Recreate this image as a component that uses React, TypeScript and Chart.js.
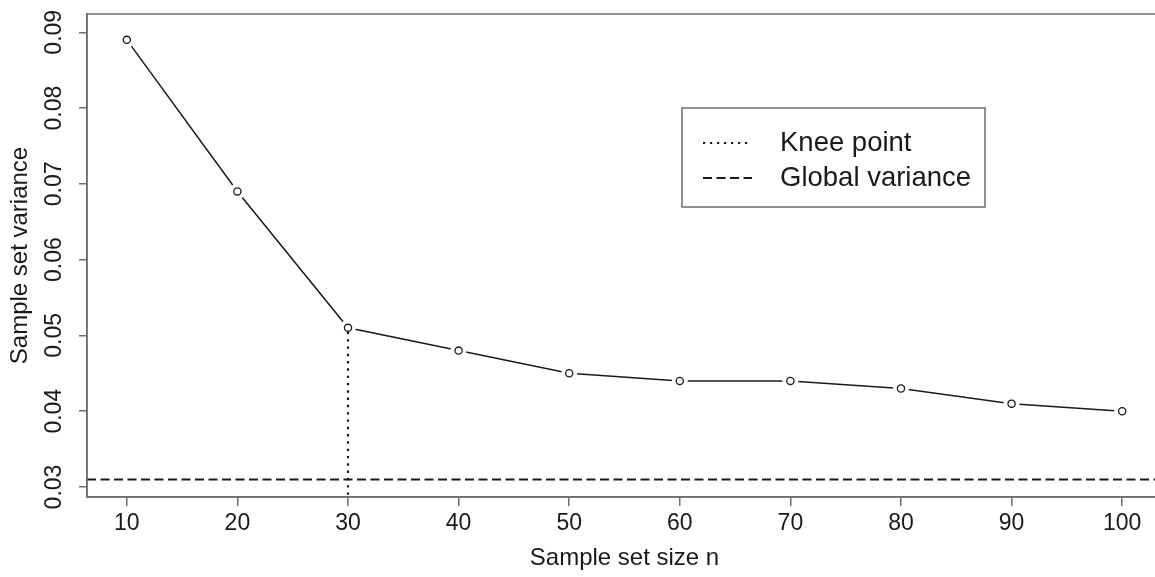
import { useEffect, useRef } from "react";
import { Chart, registerables } from "chart.js";

Chart.register(...registerables);

// Sample variance for increasing sample set sizes
const sampleSizes = [10, 20, 30, 40, 50, 60, 70, 80, 90, 100];
const sampleVariance = [0.089, 0.069, 0.051, 0.048, 0.045, 0.044, 0.044, 0.043, 0.041, 0.04];

const xTickValues = [10, 20, 30, 40, 50, 60, 70, 80, 90, 100];
const yTickValues = [0.03, 0.04, 0.05, 0.06, 0.07, 0.08, 0.09];
const yTickLabels = ["0.03", "0.04", "0.05", "0.06", "0.07", "0.08", "0.09"];

const kneeSize = 30;
const kneeVariance = 0.051;
const globalVariance = 0.031;

const legendLabels = ["Knee point", "Global variance"];
const xTitle = "Sample set size n";
const yTitle = "Sample set variance";

const FONT = '"Liberation Sans", Arial, Helvetica, sans-serif';
const AXIS_GRAY = "#6e6e6e";
const INK = "#1a1a1a";

const decorPlugin = {
  id: "plotDecor",
  afterDatasetsDraw(chart: any) {
    const { ctx, chartArea, scales } = chart;
    const xs = scales.x;
    const ys = scales.y;
    ctx.save();

    // global variance reference line
    const gy = ys.getPixelForValue(globalVariance);
    ctx.strokeStyle = INK;
    ctx.lineWidth = 2;
    ctx.setLineDash([9, 4.5]);
    ctx.beginPath();
    ctx.moveTo(chartArea.left, gy);
    ctx.lineTo(chartArea.right, gy);
    ctx.stroke();

    // knee point drop line
    const kx = xs.getPixelForValue(kneeSize);
    const ky = ys.getPixelForValue(kneeVariance);
    ctx.lineWidth = 2.2;
    ctx.setLineDash([2.4, 4.9]);
    ctx.beginPath();
    ctx.moveTo(kx, ky + 4);
    ctx.lineTo(kx, chartArea.bottom);
    ctx.stroke();
    ctx.restore();
  },
  afterDraw(chart: any) {
    const { ctx, chartArea, scales } = chart;
    const ys = scales.y;
    ctx.save();

    // box around the plotting region
    ctx.strokeStyle = AXIS_GRAY;
    ctx.lineWidth = 1.5;
    ctx.setLineDash([]);
    ctx.strokeRect(chartArea.left, chartArea.top, chartArea.right - chartArea.left, chartArea.bottom - chartArea.top);

    // rotated y tick labels
    ctx.fillStyle = INK;
    ctx.font = `23px ${FONT}`;
    ctx.textAlign = "center";
    ctx.textBaseline = "middle";
    yTickValues.forEach((v, i) => {
      const y = ys.getPixelForValue(v);
      ctx.save();
      ctx.translate(55, y);
      ctx.rotate(-Math.PI / 2);
      ctx.fillText(yTickLabels[i], 0, 0);
      ctx.restore();
    });

    // y axis title
    ctx.save();
    ctx.font = `24px ${FONT}`;
    ctx.translate(20, (chartArea.top + chartArea.bottom) / 2);
    ctx.rotate(-Math.PI / 2);
    ctx.fillText(yTitle, 0, 0);
    ctx.restore();

    // legend
    const lx = 682, ly = 108, lw = 303, lh = 99;
    ctx.fillStyle = "#ffffff";
    ctx.fillRect(lx, ly, lw, lh);
    ctx.strokeStyle = AXIS_GRAY;
    ctx.lineWidth = 1.5;
    ctx.strokeRect(lx, ly, lw, lh);

    const rows = [143, 178];
    const dashes = [[2.2, 4.8], [9, 4.5]];
    ctx.strokeStyle = INK;
    ctx.lineWidth = 2;
    rows.forEach((ry, i) => {
      ctx.setLineDash(dashes[i]);
      ctx.beginPath();
      ctx.moveTo(703, ry);
      ctx.lineTo(752, ry);
      ctx.stroke();
    });
    ctx.setLineDash([]);
    ctx.fillStyle = INK;
    ctx.font = `27.5px ${FONT}`;
    ctx.textAlign = "left";
    ctx.textBaseline = "middle";
    rows.forEach((ry, i) => ctx.fillText(legendLabels[i], 780, ry));

    ctx.restore();
  },
};

export default function App() {
  const canvasRef = useRef<HTMLCanvasElement | null>(null);

  useEffect(() => {
    const canvas = canvasRef.current;
    if (!canvas) return;
    const points = sampleSizes.map((x, i) => ({ x, y: sampleVariance[i] }));

    const chart = new Chart(canvas, {
      type: "line",
      data: {
        datasets: [
          {
            label: "line",
            data: points,
            borderColor: INK,
            borderWidth: 1.5,
            pointRadius: 0,
            fill: false,
            order: 3,
          },
          {
            label: "gap",
            data: points,
            showLine: false,
            pointRadius: 8,
            pointBackgroundColor: "#ffffff",
            pointBorderWidth: 0,
            pointBorderColor: "#ffffff",
            order: 2,
          },
          {
            label: "points",
            data: points,
            showLine: false,
            pointRadius: 3.6,
            pointBackgroundColor: "#ffffff",
            pointBorderColor: INK,
            pointBorderWidth: 1.3,
            order: 1,
          },
        ],
      },
      options: {
        responsive: false,
        animation: false,
        devicePixelRatio: 1,
        layout: { padding: { top: 14, right: 7.5, left: 0, bottom: 0 } },
        plugins: { legend: { display: false }, tooltip: { enabled: false } },
        scales: {
          x: {
            type: "linear",
            min: 6.4,
            max: 103.6,
            afterBuildTicks: (s: any) => {
              s.ticks = xTickValues.map((value) => ({ value }));
            },
            afterFit: (s: any) => {
              s.height = 80;
            },
            grid: { drawOnChartArea: false, drawTicks: true, tickLength: 9, color: AXIS_GRAY, lineWidth: 1.5 },
            border: { display: true, color: AXIS_GRAY, width: 1.5 },
            ticks: {
              color: INK,
              font: { family: FONT, size: 23 },
              padding: 4,
              maxRotation: 0,
              autoSkip: false,
            },
            title: {
              display: true,
              text: xTitle,
              color: INK,
              font: { family: FONT, size: 24 },
              padding: { top: 0, bottom: 4 },
            },
          },
          y: {
            type: "linear",
            min: 0.02868,
            max: 0.09241,
            afterBuildTicks: (s: any) => {
              s.ticks = yTickValues.map((value) => ({ value }));
            },
            afterFit: (s: any) => {
              s.width = 87;
            },
            grid: { drawOnChartArea: false, drawTicks: true, tickLength: 8, color: AXIS_GRAY, lineWidth: 1.5 },
            border: { display: true, color: AXIS_GRAY, width: 1.5 },
            ticks: { display: false },
          },
        },
      },
      plugins: [decorPlugin],
    });

    return () => chart.destroy();
  }, []);

  return (
    <div style={{ position: "fixed", left: 0, top: 0, width: 1170, height: 577, background: "#ffffff" }}>
      <canvas ref={canvasRef} width={1170} height={577} />
    </div>
  );
}
